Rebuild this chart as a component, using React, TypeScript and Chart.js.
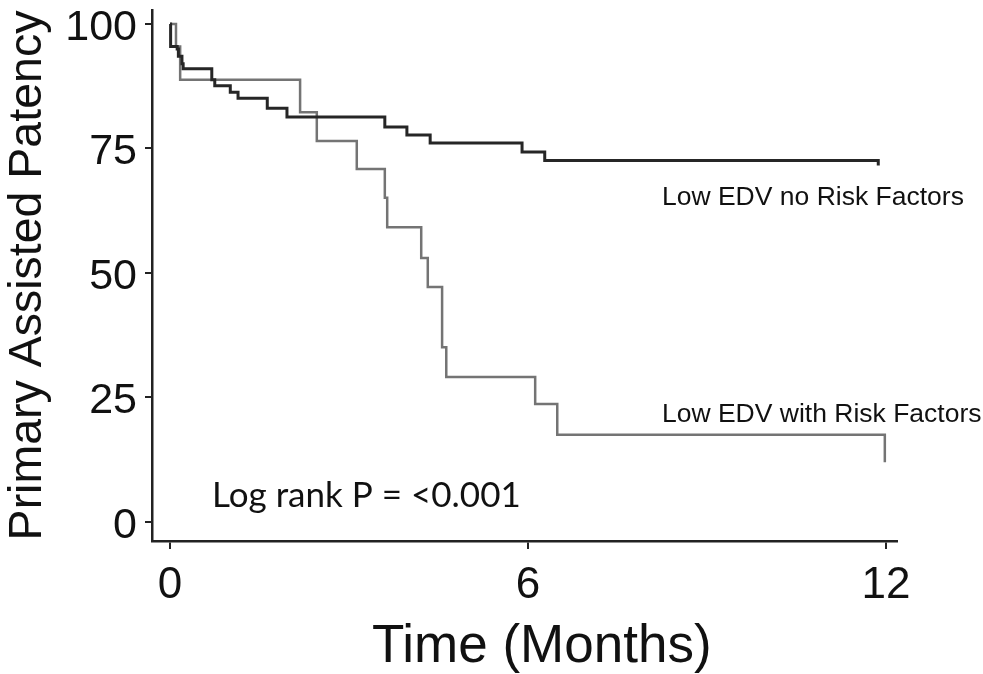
import React, { useEffect, useRef } from "react";
import { Chart, registerables } from "chart.js";

Chart.register(...registerables);

// Kaplan-Meier steps (time in months, primary assisted patency %)
const noRiskTimes = [0, 0.01, 0.12, 0.14, 0.2, 0.22, 0.7, 0.75, 1.01, 1.14, 1.63, 1.96, 3.6, 3.97, 4.36, 5.9, 6.28, 11.87];
const noRiskValues = [100, 95.5, 95, 93.5, 92, 91, 88.8, 87.6, 86.3, 85.1, 83.1, 81.3, 79.3, 77.7, 76.1, 74.3, 72.6, 71.6];

const riskTimes = [0, 0.1, 0.17, 2.18, 2.46, 3.13, 3.6, 3.64, 4.21, 4.32, 4.56, 4.63, 6.12, 6.49, 11.98];
const riskValues = [100, 95.5, 88.8, 82.3, 76.5, 70.9, 65.1, 59.2, 53.0, 47.2, 35.1, 29.1, 23.7, 17.5, 12.0];

const xTicks = [0, 6, 12];
const yTicks = [0, 25, 50, 75, 100];

const noRiskLabel = "Low EDV no Risk Factors";
const riskLabel = "Low EDV with Risk Factors";
const pLabel = "Log rank P = <0.001";
const xTitle = "Time (Months)";
const yTitle = "Primary Assisted Patency";

const ARIAL = "'Liberation Sans', Arial, Helvetica, sans-serif";

const textPlugin = {
  id: "kmTexts",
  afterDraw(chart: any) {
    const { ctx } = chart;
    const x = chart.scales.x;
    const y = chart.scales.y;
    ctx.save();
    ctx.fillStyle = "#111";
    ctx.textAlign = "left";
    ctx.textBaseline = "alphabetic";
    ctx.font = `26.5px ${ARIAL}`;
    ctx.fillText(noRiskLabel, x.getPixelForValue(8.245), y.getPixelForValue(63.65));
    ctx.fillText(riskLabel, x.getPixelForValue(8.245), y.getPixelForValue(20.1));
    ctx.font = "35px Lato, 'Open Sans', sans-serif";
    ctx.fillText(pLabel, x.getPixelForValue(0.704), y.getPixelForValue(3.0));
    ctx.textAlign = "center";
    ctx.font = `53px ${ARIAL}`;
    ctx.fillText(xTitle, x.getPixelForValue(6.23), chart.height - 12);
    ctx.restore();
  },
};

export default function App() {
  const canvasRef = useRef<HTMLCanvasElement | null>(null);

  useEffect(() => {
    document.body.style.margin = "0";
    const canvas = canvasRef.current;
    if (!canvas) return;
    const chart = new Chart(canvas, {
      type: "line",
      data: {
        datasets: [
          {
            label: noRiskLabel,
            data: noRiskTimes.map((t, i) => ({ x: t, y: noRiskValues[i] })),
            borderColor: "#262626",
            borderWidth: 3,
            stepped: true,
            pointRadius: 0,
            fill: false,
          },
          {
            label: riskLabel,
            data: riskTimes.map((t, i) => ({ x: t, y: riskValues[i] })),
            borderColor: "#747474",
            borderWidth: 2.5,
            stepped: true,
            pointRadius: 0,
            fill: false,
          },
        ],
      },
      options: {
        animation: false,
        responsive: false,
        devicePixelRatio: 1,
        layout: { padding: { left: 0, top: 10, right: 86, bottom: 0 }, autoPadding: false },
        plugins: { legend: { display: false }, tooltip: { enabled: false } },
        scales: {
          x: {
            type: "linear",
            min: -0.302,
            max: 12.184,
            afterBuildTicks: (s: any) => {
              s.ticks = xTicks.map((v) => ({ value: v }));
            },
            afterFit: (s: any) => {
              s.height = 133;
              s.paddingLeft = 0;
              s.paddingRight = 0;
            },
            grid: {
              display: true,
              drawOnChartArea: false,
              drawTicks: true,
              tickLength: 8,
              color: "#222",
              lineWidth: 2,
            },
            border: { display: true, color: "#222", width: 2.5 },
            ticks: {
              color: "#111",
              padding: 15,
              maxRotation: 0,
              font: { family: ARIAL, size: 44, lineHeight: 1 },
              callback: (v: any) => String(v),
            },
          },
          y: {
            type: "linear",
            min: -3.815,
            max: 102.81,
            afterBuildTicks: (s: any) => {
              s.ticks = yTicks.map((v) => ({ value: v }));
            },
            afterFit: (s: any) => {
              s.width = 152;
              s.paddingTop = 0;
              s.paddingBottom = 0;
            },
            grid: {
              display: true,
              drawOnChartArea: false,
              drawTicks: true,
              tickLength: 7,
              color: "#222",
              lineWidth: 2,
            },
            border: { display: true, color: "#222", width: 2.5 },
            ticks: {
              color: "#111",
              padding: 8,
              labelOffset: 4,
              font: { family: ARIAL, size: 43, lineHeight: 1 },
              callback: (v: any) => String(v),
            },
            title: {
              display: true,
              text: yTitle,
              color: "#111",
              font: { family: ARIAL, size: 46.5, lineHeight: 1 },
              padding: { top: 5, bottom: 0 },
            },
          },
        },
      },
      plugins: [textPlugin],
    });
    return () => chart.destroy();
  }, []);

  return (
    <div style={{ width: 983, height: 674, background: "#fff" }}>
      <canvas ref={canvasRef} width={983} height={674} style={{ display: "block" }} />
    </div>
  );
}
